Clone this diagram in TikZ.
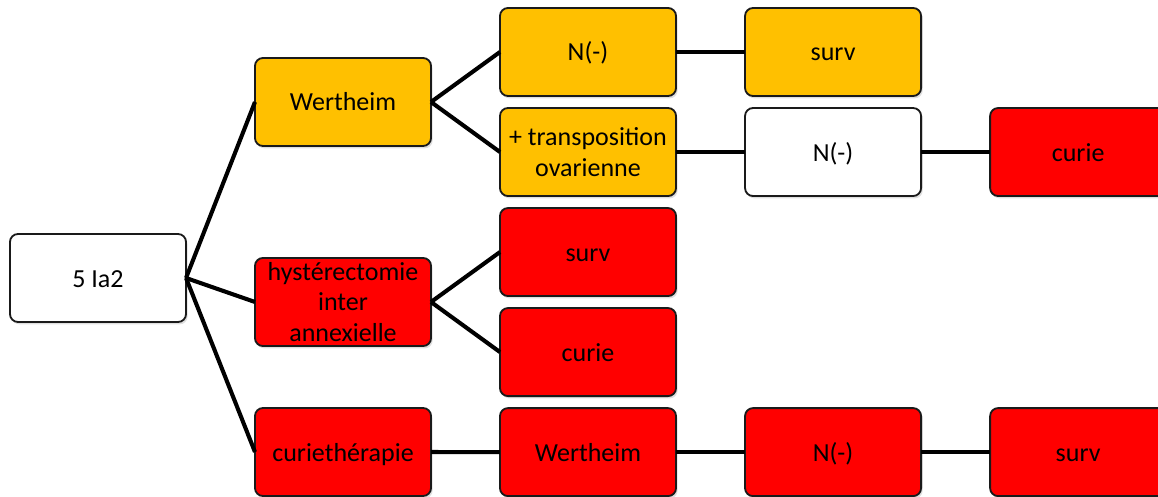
\documentclass[tikz,border=0pt]{standalone}
\usepackage{fontspec}
\setmainfont{Carlito}
\usetikzlibrary{positioning,shadows}

\definecolor{boxorange}{HTML}{FFC000}
\definecolor{boxred}{HTML}{FF0000}
\definecolor{boxline}{HTML}{1A1A1A}

\tikzset{
  box/.style={rectangle, rounded corners=0.2cm, draw=boxline, line width=1.3pt,
              outer sep=0pt, minimum width=4.4cm, minimum height=2.2cm, align=center,
              font=\fontsize{18.5}{21.5}\selectfont,
              drop shadow={opacity=0.25, shadow xshift=0.04cm, shadow yshift=-0.06cm}},
  oneline/.style={text height=0.62cm, text depth=0.17cm},
  whitebox/.style={box, fill=white},
  orangebox/.style={box, fill=boxorange},
  redbox/.style={box, fill=boxred},
  link/.style={line width=2.9pt, black}
}

\begin{document}
\begin{tikzpicture}[x=0.025cm, y=-0.025cm, node distance=0.3cm and 1.725cm]
\useasboundingbox (0,0) rectangle (1158,497);
\clip (0,0) rectangle (1158,497);

% first columns
\node [whitebox, oneline] (root) at (98,278) {5 Ia2};
\node [orangebox, oneline] (wert) at (343,102) {Wertheim};
\node [redbox] (hyst) at (343,302) {hystérectomie\\inter\\annexielle};
\node [redbox, oneline] (curieth) at (343,452) {curiethérapie};

% third column
\node [orangebox, oneline] (nneg) at (588,52) {N(-)};
\node [orangebox] (transp) [below=of nneg] {+ transposition\\ovarienne};
\node [redbox, oneline] (survh) [below=of transp] {surv};
\node [redbox, oneline] (curieh) [below=of survh] {curie};
\node [redbox, oneline] (wertc) [below=of curieh] {Wertheim};

% right columns
\node [orangebox, oneline] (survw) [right=of nneg] {surv};
\node [whitebox, oneline] (nnegt) [right=of transp] {N(-)};
\node [redbox, oneline] (curiet) [right=of nnegt] {curie};
\node [redbox, oneline] (nnegc) [right=of wertc] {N(-)};
\node [redbox, oneline] (survc) [right=of nnegc] {surv};

\draw [link] (root.east) -- (wert.west);
\draw [link] (root.east) -- (hyst.west);
\draw [link] (root.east) -- (curieth.west);

\draw [link] (wert.east) -- (nneg.west);
\draw [link] (wert.east) -- (transp.west);
\draw [link] (hyst.east) -- (survh.west);
\draw [link] (hyst.east) -- (curieh.west);
\draw [link] (curieth) -- (wertc);

\draw [link] (nneg) -- (survw);
\draw [link] (transp) -- (nnegt);
\draw [link] (nnegt) -- (curiet);
\draw [link] (wertc) -- (nnegc);
\draw [link] (nnegc) -- (survc);
\end{tikzpicture}
\end{document}
